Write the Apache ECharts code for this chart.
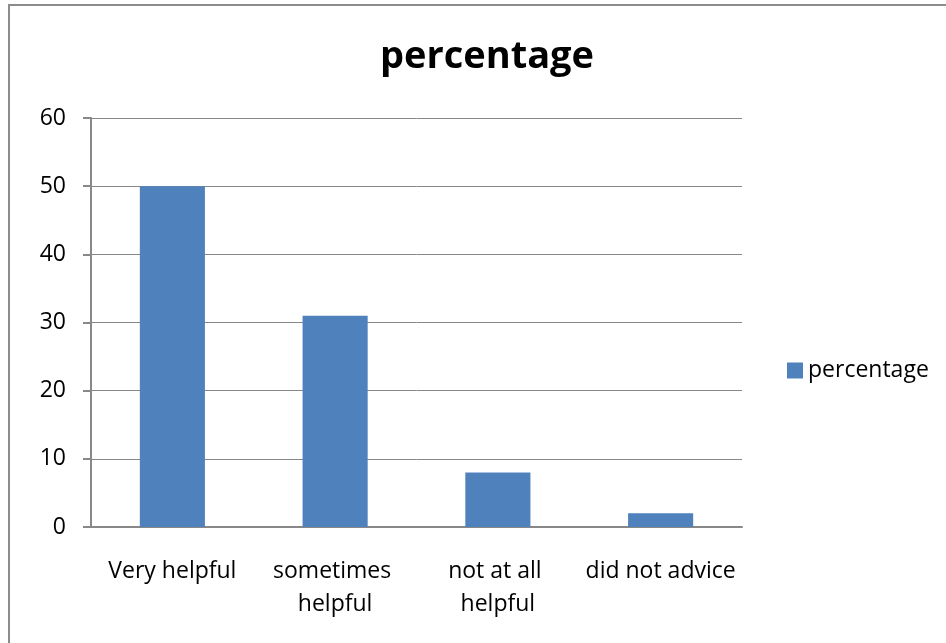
<!DOCTYPE html>
<html>
<head>
<meta charset="utf-8">
<script src="https://cdn.jsdelivr.net/npm/echarts@6/dist/echarts.min.js"></script>
<style>
  html, body { margin: 0; padding: 0; background: #fff; }
  #chart { width: 946px; height: 643px; }
</style>
</head>
<body>
<div id="chart"></div>
<script>
const categories = ["Very helpful", "sometimes helpful", "not at all helpful", "did not advice"];
const percentage = [50, 31, 8, 2];
const yTicks = [0, 10, 20, 30, 40, 50, 60];

const chart = echarts.init(document.getElementById("chart"));
const font = "'Open Sans', 'Noto Sans', sans-serif";

const option = {
  animation: false,
  backgroundColor: "#fff",
  textStyle: { fontFamily: font },
  graphic: [{
    type: "rect",
    shape: { x: 9, y: 5, width: 1200, height: 1200 },
    style: { fill: "none", stroke: "#8c8c8c", lineWidth: 2 },
    silent: true
  }],
  title: {
    text: "percentage",
    left: 482,
    top: 33,
    textAlign: "center",
    textStyle: { fontFamily: font, fontSize: 38, fontWeight: "bold", color: "#000" }
  },
  legend: {
    data: ["percentage"],
    orient: "vertical",
    left: 782,
    top: 354,
    icon: "rect",
    itemWidth: 16,
    itemHeight: 16,
    itemGap: 6,
    textStyle: { fontFamily: font, fontSize: 23, color: "#000" }
  },
  grid: { left: 91, right: 204, top: 118, bottom: 116, containLabel: false },
  xAxis: {
    type: "category",
    data: categories,
    axisLine: { lineStyle: { color: "#888", width: 2 } },
    axisTick: { alignWithLabel: false, length: 9, lineStyle: { color: "#888", width: 2 } },
    axisLabel: {
      color: "#000",
      fontFamily: font,
      fontSize: 23,
      margin: 28,
      lineHeight: 33,
      width: 158,
      overflow: "break",
      interval: 0
    }
  },
  yAxis: {
    type: "value",
    min: 0,
    max: 60,
    interval: 10,
    axisLine: { show: true, lineStyle: { color: "#888", width: 2 } },
    axisTick: { show: true, length: 8, lineStyle: { color: "#888", width: 2 } },
    axisLabel: {
      color: "#000",
      fontFamily: font,
      fontSize: 23,
      margin: 25,
      formatter: v => yTicks.includes(v) ? String(v) : ""
    },
    splitLine: { lineStyle: { color: "#888", width: 1 } }
  },
  series: [{
    name: "percentage",
    type: "bar",
    data: percentage,
    barWidth: "40%",
    itemStyle: { color: "#4f81bd" }
  }]
};

chart.setOption(option);
</script>
</body>
</html>
